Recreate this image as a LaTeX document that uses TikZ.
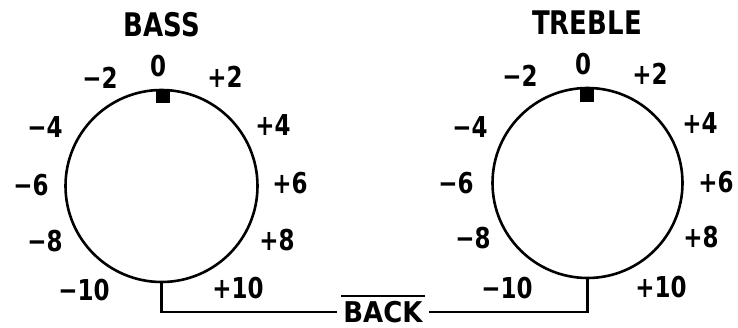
\documentclass[tikz,border=0pt]{standalone}
\usepackage{fontspec}
\usepackage{graphicx}
\setmainfont{DejaVu Sans}
\newcommand{\tall}[1]{\scalebox{1}[1.25]{#1}}
\begin{document}
\begin{tikzpicture}[x=1pt,y=-1pt,
  dial/.style={circle,draw,line width=2.6pt,inner sep=0pt,minimum size=#1},
  num/.style={font=\bfseries\fontsize{23}{23}\selectfont,inner sep=0pt},
  ttl/.style={font=\bfseries\fontsize{26}{26}\selectfont,inner sep=0pt},
  knob/.style={fill=black,inner sep=0pt,minimum width=14pt,minimum height=14pt},
  wire/.style={line width=2.2pt}]
\useasboundingbox (0,0) rectangle (738,328);
% dials
\node[dial=192pt] (bass) at (161.5,186) {};
\node[dial=190pt] (treble) at (587.5,183) {};
\node[knob] (bk) at (162.5,96) {};
\node[knob] (tk) at (587,95) {};
% titles
\node[ttl] (bt) at (162,25) {\tall{BASS}};
\node[ttl] (tt) at (587,23) {\tall{TREBLE}};
% bass labels
\node[num] (b0) at (158,66) {\tall{0}};
\node[num] (bm2) at (100,78) {\tall{−2}};
\node[num] (bp2) at (225,77) {\tall{+2}};
\node[num] (bm4) at (45,127) {\tall{−4}};
\node[num] (bp4) at (273,125) {\tall{+4}};
\node[num] (bm6) at (31,185) {\tall{−6}};
\node[num] (bp6) at (290,183) {\tall{+6}};
\node[num] (bm8) at (45,241) {\tall{−8}};
\node[num] (bp8) at (277,240) {\tall{+8}};
\node[num] (bm10) at (84,290) {\tall{−10}};
\node[num] (bp10) at (238,288) {\tall{+10}};
% treble labels
\node[num] (t0) at (583,64) {\tall{0}};
\node[num] (tm2) at (520,76) {\tall{−2}};
\node[num] (tp2) at (650,74) {\tall{+2}};
\node[num] (tm4) at (470,127) {\tall{−4}};
\node[num] (tp4) at (700,123) {\tall{+4}};
\node[num] (tm6) at (456,183) {\tall{−6}};
\node[num] (tp6) at (716,182) {\tall{+6}};
\node[num] (tm8) at (473,238) {\tall{−8}};
\node[num] (tp8) at (701,237) {\tall{+8}};
\node[num] (tm10) at (507,288) {\tall{−10}};
\node[num] (tp10) at (661,287) {\tall{+10}};
% BACK
\node[font=\bfseries\fontsize{26}{26}\selectfont,inner xsep=6pt,inner ysep=0pt] (back) at (383,312) {\scalebox{1}[1.1]{BACK}};
\draw[line width=1.8pt] ([shift={(4pt,5pt)}]back.north west) -- ([shift={(-4pt,5pt)}]back.north east);
\coordinate (lc) at (bass.south |- back.west);
\coordinate (rc) at (treble.south |- back.east);
\draw[wire] (bass.south) -- (lc) -- (back.west);
\draw[wire] (back.east) -- (rc) -- (treble.south);
\end{tikzpicture}
\end{document}
